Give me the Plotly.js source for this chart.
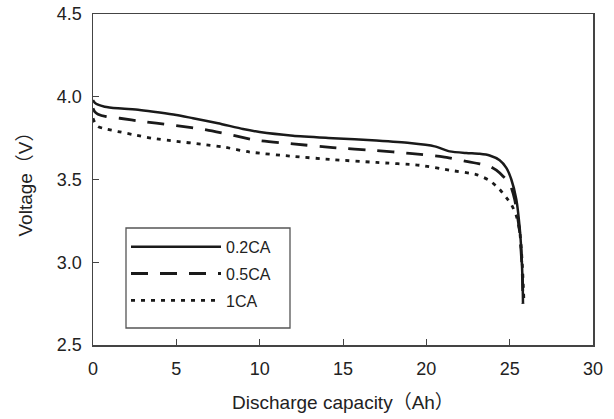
<!DOCTYPE html>
<html>
<head>
<meta charset="utf-8">
<script src="https://cdn.plot.ly/plotly-3.0.1.min.js"></script>
<style>html,body{margin:0;padding:0;background:#fff;}#chart{width:614px;height:419px;}</style>
</head>
<body>
<div id="chart"></div>
<script>
// 0.2CA
var capA = [0, 0.1, 0.3, 0.7, 1.5, 2.8, 4, 5, 6, 7.5, 9, 10, 12, 14.4, 17, 19, 20.5, 21.4, 22.4, 23.2, 23.8, 24.4, 24.8, 25.1, 25.4, 25.6, 25.7, 25.78, 25.8];
var voltA = [3.98, 3.965, 3.952, 3.94, 3.93, 3.92, 3.905, 3.89, 3.87, 3.84, 3.805, 3.787, 3.765, 3.75, 3.735, 3.72, 3.70, 3.67, 3.66, 3.655, 3.645, 3.616, 3.57, 3.5, 3.38, 3.21, 3.07, 2.87, 2.75];
// 0.5CA
var capB = [0, 0.1, 0.3, 0.8, 1.6, 3, 3.8, 5, 6.8, 8.5, 9.8, 12, 14.4, 17, 19, 21, 22.4, 23.2, 23.8, 24.2, 24.6, 25.0, 25.3, 25.6, 25.75, 25.8];
var voltB = [3.93, 3.91, 3.895, 3.88, 3.87, 3.85, 3.84, 3.825, 3.80, 3.765, 3.737, 3.715, 3.693, 3.675, 3.658, 3.637, 3.61, 3.595, 3.58, 3.556, 3.52, 3.476, 3.38, 3.18, 2.95, 2.75];
// 1CA
var capC = [0, 0.1, 0.3, 0.7, 1.5, 2.4, 3.5, 5, 6.5, 7.8, 9.4, 12, 14.4, 17, 19.6, 21.4, 23, 23.8, 24.4, 24.8, 25.1, 25.4, 25.6, 25.75, 25.85];
var voltC = [3.87, 3.845, 3.82, 3.807, 3.79, 3.771, 3.75, 3.731, 3.713, 3.697, 3.666, 3.64, 3.62, 3.603, 3.586, 3.556, 3.53, 3.494, 3.44, 3.39, 3.35, 3.28, 3.19, 3.0, 2.78];

var seriesNames = ['0.2CA', '0.5CA', '1CA'];
var xTicks = [0, 5, 10, 15, 20, 25, 30];
var yTicks = [2.5, 3.0, 3.5, 4.0, 4.5];
var yTickText = ['2.5', '3.0', '3.5', '4.0', '4.5'];

var lineColor = '#1a1a1a';
var font = 'Liberation Sans, Arial, Noto Sans CJK JP, sans-serif';

var traces = [
  {x: capA, y: voltA, name: seriesNames[0], legendgroup: 'a', mode: 'lines',
   line: {color: lineColor, width: 2.5, dash: 'solid', shape: 'spline', smoothing: 0.6}},
  {x: capB, y: voltB, name: seriesNames[1], legendgroup: 'b', mode: 'lines',
   line: {color: lineColor, width: 2.8, dash: '17px,12px', shape: 'spline', smoothing: 0.6}},
  {x: capC, y: voltC, name: seriesNames[2], legendgroup: 'c', mode: 'lines',
   line: {color: lineColor, width: 2.8, dash: '4px,6px', shape: 'spline', smoothing: 0.6}}
];

var layout = {
  width: 614, height: 419,
  margin: {l: 93, r: 21, t: 14, b: 74},
  paper_bgcolor: '#fff', plot_bgcolor: '#fff',
  font: {family: font, size: 18, color: '#222'},
  showlegend: true,
  legend: {
    x: 0.066, y: 0.348, xanchor: 'left', yanchor: 'top',
    borderwidth: 0, bgcolor: 'rgba(0,0,0,0)',
    font: {family: font, size: 16, color: '#222'},
    itemwidth: 90, tracegroupgap: 3, traceorder: 'grouped'
  },
  shapes: [
    {type: 'rect', xref: 'paper', yref: 'paper', x0: 0.066, x1: 0.394, y0: 0.0514, y1: 0.3535,
     line: {color: '#555', width: 1.3}, fillcolor: 'rgba(255,255,255,1)', layer: 'above'}
  ],
  xaxis: {
    range: [0, 30], tickvals: xTicks, ticks: 'inside', ticklen: 6, tickwidth: 1,
    tickcolor: '#444', showline: true, linecolor: '#444', linewidth: 1.5, mirror: true,
    showgrid: false, zeroline: false, fixedrange: true, ticklabelstandoff: 7,
    tickfont: {family: font, size: 18, color: '#222'},
    title: {text: 'Discharge capacity（Ah）', font: {family: font, size: 19, color: '#222'}, standoff: 17}
  },
  yaxis: {
    range: [2.5, 4.5], tickvals: yTicks, ticktext: yTickText, ticks: 'inside', ticklen: 6, tickwidth: 1,
    tickcolor: '#444', showline: true, linecolor: '#444', linewidth: 1.5, mirror: true,
    showgrid: false, zeroline: false, fixedrange: true, ticklabelstandoff: 6,
    tickfont: {family: font, size: 18, color: '#222'},
    title: {text: 'Voltage（V）', font: {family: font, size: 19, color: '#222'}, standoff: 19}
  }
};

Plotly.newPlot('chart', traces, layout, {displayModeBar: false, staticPlot: true});
</script>
</body>
</html>
